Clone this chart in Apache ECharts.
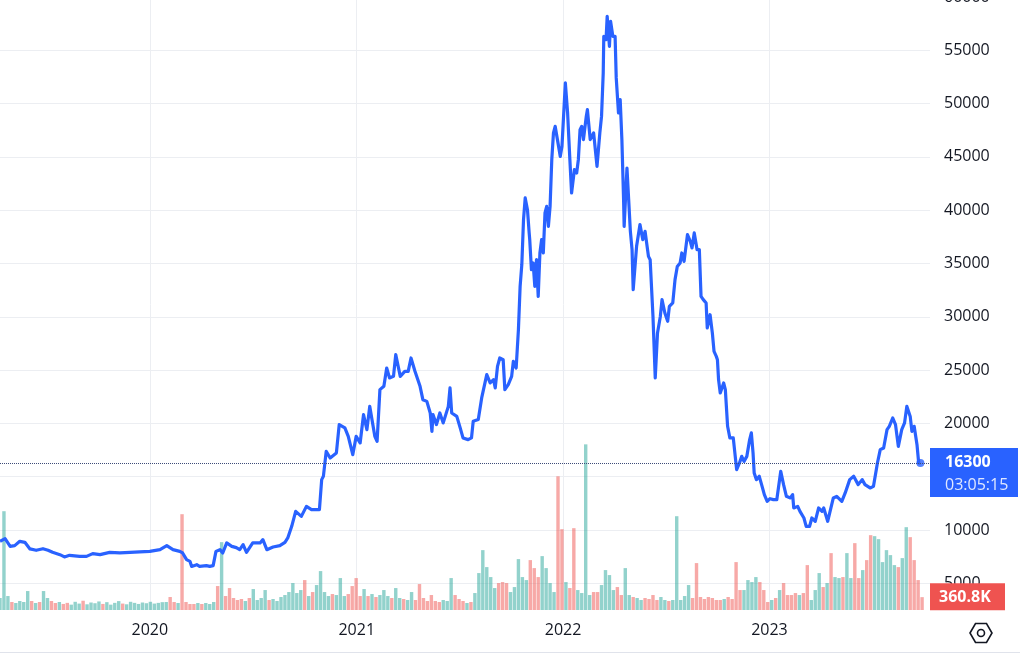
<!DOCTYPE html>
<html><head><meta charset="utf-8">
<script src="https://cdn.jsdelivr.net/npm/echarts@6/dist/echarts.min.js"></script>
<style>html,body{margin:0;padding:0;background:#fff}#c{width:1020px;height:654px}</style>
</head><body><div id="c"></div>
<script>
// ---- data ----
const startDate = '2019-04-11';
const dayCount = 1646;
const yearTicks = ['2020', '2021', '2022', '2023'];
const countdownText = '03:05:15';

const priceDates = [
'2019-04-11','2019-04-20','2019-04-29','2019-05-07','2019-05-16','2019-05-19','2019-05-25','2019-05-28','2019-06-03','2019-06-14',
'2019-06-26','2019-07-05','2019-07-13','2019-07-26','2019-08-03','2019-08-12','2019-08-30','2019-09-11','2019-09-22','2019-10-05',
'2019-10-22','2019-11-09','2019-11-27','2019-12-14','2020-01-01','2020-01-19','2020-01-31','2020-02-11','2020-02-23','2020-02-28',
'2020-03-06','2020-03-12','2020-03-15','2020-03-24','2020-03-29','2020-04-10','2020-04-16','2020-04-22','2020-04-27','2020-05-04',
'2020-05-09','2020-05-16','2020-05-25','2020-06-02','2020-06-08','2020-06-14','2020-06-20','2020-07-01','2020-07-14','2020-07-19',
'2020-07-26','2020-08-06','2020-08-18','2020-08-27','2020-09-01','2020-09-08','2020-09-15','2020-09-25','2020-10-04','2020-10-13',
'2020-10-27','2020-10-31','2020-11-03','2020-11-08','2020-11-15','2020-11-26','2020-12-01','2020-12-11','2020-12-17','2020-12-25',
'2020-12-31','2021-01-07','2021-01-13','2021-01-19','2021-01-24','2021-02-02','2021-02-06','2021-02-11','2021-02-18','2021-02-23',
'2021-02-28','2021-03-07','2021-03-11','2021-03-19','2021-03-27','2021-04-02','2021-04-07','2021-04-14','2021-04-23','2021-04-28',
'2021-05-05','2021-05-11','2021-05-14','2021-05-16','2021-05-22','2021-05-28','2021-06-03','2021-06-12','2021-06-15','2021-06-18',
'2021-06-27','2021-07-03','2021-07-08','2021-07-17','2021-07-23','2021-07-26','2021-08-04','2021-08-10','2021-08-19','2021-08-25',
'2021-08-31','2021-09-03','2021-09-07','2021-09-11','2021-09-17','2021-09-20','2021-09-26','2021-10-02','2021-10-05','2021-10-10',
'2021-10-14','2021-10-17','2021-10-20','2021-10-23','2021-10-26','2021-10-30','2021-11-02','2021-11-03','2021-11-06','2021-11-09',
'2021-11-12','2021-11-15','2021-11-18','2021-11-21','2021-11-24','2021-11-27','2021-11-30','2021-12-03','2021-12-06','2021-12-09',
'2021-12-12','2021-12-15','2021-12-18','2021-12-22','2021-12-27','2021-12-30','2022-01-05','2022-01-09','2022-01-13','2022-01-16',
'2022-01-21','2022-01-25','2022-01-28','2022-01-31','2022-02-03','2022-02-06','2022-02-11','2022-02-13','2022-02-18','2022-02-24',
'2022-03-02','2022-03-07','2022-03-10','2022-03-13','2022-03-14','2022-03-18','2022-03-20','2022-03-24','2022-03-26','2022-03-30',
'2022-04-03','2022-04-05','2022-04-07','2022-04-09','2022-04-12','2022-04-15','2022-04-18','2022-04-19','2022-04-24','2022-04-27',
'2022-04-30','2022-05-03','2022-05-05','2022-05-11','2022-05-17','2022-05-22','2022-05-26','2022-06-01','2022-06-04','2022-06-09',
'2022-06-13','2022-06-17','2022-06-22','2022-06-25','2022-06-30','2022-07-05','2022-07-08','2022-07-14','2022-07-18','2022-07-22',
'2022-07-27','2022-07-30','2022-08-03','2022-08-09','2022-08-14','2022-08-17','2022-08-21','2022-08-26','2022-08-30','2022-09-02',
'2022-09-06','2022-09-11','2022-09-13','2022-09-18','2022-09-22','2022-09-25','2022-09-29','2022-10-01','2022-10-03','2022-10-06',
'2022-10-12','2022-10-15','2022-10-19','2022-10-23','2022-10-29','2022-11-01','2022-11-04','2022-11-09','2022-11-13','2022-11-17',
'2022-11-22','2022-11-27','2022-11-30','2022-12-03','2022-12-05','2022-12-09','2022-12-14','2022-12-19','2022-12-23','2022-12-28',
'2023-01-02','2023-01-08','2023-01-14','2023-01-21','2023-01-26','2023-01-31','2023-02-07','2023-02-11','2023-02-13','2023-02-20',
'2023-02-24','2023-03-03','2023-03-07','2023-03-13','2023-03-17','2023-03-23','2023-03-29','2023-04-04','2023-04-07','2023-04-14',
'2023-04-19','2023-04-24','2023-04-30','2023-05-09','2023-05-15','2023-05-23','2023-05-30','2023-06-07','2023-06-14','2023-06-19',
'2023-06-28','2023-07-04','2023-07-09','2023-07-11','2023-07-16','2023-07-22','2023-07-28','2023-08-01','2023-08-07','2023-08-12',
'2023-08-17','2023-08-23','2023-08-28','2023-09-01','2023-09-07','2023-09-10','2023-09-14','2023-09-19','2023-09-22','2023-09-25'
];
const priceValues = [
8940,9190,8470,8540,8940,9100,8850,9030,8230,8100,
8250,8100,7910,7690,7480,7630,7530,7530,7790,7690,
7910,7850,7910,7950,8000,8160,8540,8160,8000,7850,
7220,7060,6590,6750,6590,6660,6590,6660,8000,8160,
7850,8790,8470,8350,8160,8630,7910,8790,8790,9100,
8160,8410,8540,8850,9260,10350,11750,11280,12220,11910,
11910,14730,15040,17380,16760,17230,19890,19580,18790,17070,
18790,18170,20820,19420,21600,18790,18320,23170,23480,25200,
24270,24420,26450,24420,24890,24890,26140,24890,23480,22230,
22070,20980,19260,20820,19890,20980,20050,21600,23330,20980,
20660,19580,18640,18480,18640,20200,20360,22390,24580,23800,
24110,23330,25350,26140,25980,23170,23640,24420,25820,25200,
28800,32860,34890,39110,41150,40050,37870,37240,34420,35050,
32860,35360,31920,35990,37240,35990,39740,40360,38490,40360,
44740,47250,47870,46620,45050,45990,51940,49120,44740,41620,
43800,43490,44740,47560,47870,46620,48800,49430,46620,47250,
44110,47250,48800,52880,56310,56000,58180,55370,57720,56310,
56310,52410,52250,49120,50370,46620,40990,38490,43960,40990,
38020,36300,32550,36610,38650,37240,38020,35670,35360,30040,
24270,28490,30040,31610,30360,29580,30980,31300,33490,34730,
35050,35990,35200,37710,37080,36460,37870,36300,36300,31920,
31610,31300,28960,30200,28490,26760,26290,25980,24110,22860,
23800,23170,19730,18640,18640,18480,15660,16290,16910,16440,
16910,18480,19110,17230,15360,14730,15040,14100,13320,12690,
12940,12850,12850,15510,14260,13160,13010,13320,12070,12220,
11750,11130,10350,10350,11130,10820,12070,11750,12070,10820,
11910,13010,13160,12690,13480,14730,15040,14260,14730,14260,
13950,14100,15660,16290,17540,17700,19420,19730,20510,19890,
17850,19420,20050,21600,20660,19260,19730,18010,16290,16300
];

// weekly volume (thousands), first bar on startDate, one bar every 7 days
const volumeValues = [
336,2772,392,224,196,252,224,532,252,196,
224,532,336,252,196,224,170,200,150,230,
180,260,160,210,190,240,170,220,150,200,
250,180,160,230,200,170,210,190,230,180,
200,220,224,364,224,196,2688,224,168,168,
196,168,196,168,224,672,1904,392,616,336,
280,308,252,336,588,280,336,560,280,308,
252,364,420,504,756,476,560,840,392,504,
700,1092,504,392,448,420,896,392,448,672,
896,392,588,392,448,364,420,560,392,336,
616,336,308,280,504,280,728,336,252,420,
252,224,280,252,896,420,308,252,196,224,
476,1036,1680,1204,924,616,756,784,756,504,
644,1428,924,840,1400,1176,924,1512,1176,756,
504,3752,2268,784,616,2296,560,476,4648,420,
504,504,700,1120,980,560,644,420,1176,420,
364,336,280,336,308,420,280,364,280,252,
280,2632,280,392,700,336,1316,364,308,364,
336,280,280,308,364,308,1344,560,560,840,
784,924,784,560,224,280,336,560,756,420,
420,476,420,476,1260,280,560,1036,644,756,
1596,924,896,924,1596,896,1876,896,1120,1400,
2100,2072,1988,1344,1680,1540,1260,1204,1456,2324,
2044,1400,840,360.8
];
const volumeUpWeeks = [1,7,11,56,81,86,97,100,114,121,122,123,124,130,131,132,133,137,138,148,153,154,158,171,189,191,207,214,221,222,225,229];
const volumeDownWeeks = [43,46,55,58,89,90,106,109,126,127,128,134,135,136,141,142,145,176,186,198,204,210,216,219,220,227,230,231,233];

// ---- build ----
function addDays(s, n) {
  const d = new Date(s + 'T00:00:00Z');
  d.setUTCDate(d.getUTCDate() + n);
  return d.toISOString().slice(0, 10);
}
const days = [];
for (let i = 0; i < dayCount; i++) days.push(addDays(startDate, i));
const dayIndex = {};
days.forEach((d, i) => { dayIndex[d] = i; });

const priceData = new Array(dayCount).fill(null);
priceDates.forEach((d, j) => { priceData[dayIndex[d]] = priceValues[j]; });
const lastIdx = dayIndex[priceDates[priceDates.length - 1]];
const lastPrice = priceValues[priceValues.length - 1];

// step price lookup (for default bar colour only)
const stepPrice = new Array(dayCount).fill(null);
let cur = priceValues[0];
for (let i = 0; i < dayCount; i++) { if (priceData[i] != null) cur = priceData[i]; stepPrice[i] = cur; }

const UP = 'rgba(38,166,154,0.5)', DOWN = 'rgba(239,83,80,0.5)';
const volData = new Array(dayCount).fill(null);
volumeValues.forEach((v, k) => {
  const i = k * 7;
  let up = k === 0 ? true : stepPrice[i] >= stepPrice[i - 7];
  if (volumeUpWeeks.includes(k)) up = true;
  if (volumeDownWeeks.includes(k)) up = false;
  volData[i] = { value: v, itemStyle: { color: up ? UP : DOWN } };
});
const lastVolume = volumeValues[volumeValues.length - 1];

const isYearStart = (i, v) => v.slice(5) === '01-01' && yearTicks.includes(v.slice(0, 4));
const FONT = 'Open Sans';
const TXT = '#131722';

const chart = echarts.init(document.getElementById('c'), null, { renderer: 'canvas' });
chart.setOption({
  animation: false,
  backgroundColor: '#ffffff',
  grid: { left: 0, right: 90, top: -3, bottom: 44, containLabel: false, outerBoundsMode: 'none' },
  xAxis: {
    type: 'category', data: days, boundaryGap: false,
    axisLine: { show: false }, axisTick: { show: false },
    axisLabel: { interval: isYearStart, formatter: v => v.slice(0, 4), margin: 12,
      color: TXT, fontSize: 16, fontFamily: FONT },
    splitLine: { show: true, interval: isYearStart, lineStyle: { color: '#eceef2', width: 1 } }
  },
  yAxis: [{
    type: 'value', position: 'right', min: 2500, max: 60000, interval: 2500,
    axisLine: { show: false }, axisTick: { show: false },
    axisLabel: { margin: 14, color: TXT, fontSize: 16, fontFamily: FONT,
      formatter: v => (v % 5000 === 0 ? String(v) : '') },
    splitLine: { show: true, lineStyle: { color: ['rgba(0,0,0,0)', '#eceef2'], width: 1 } }
  }, {
    type: 'value', min: 0, max: 17200, show: false, splitLine: { show: false }
  }],
  series: [{
    type: 'bar', xAxisIndex: 0, yAxisIndex: 1, data: volData, barWidth: 3.4, z: 1
  }, {
    type: 'line', data: priceData, connectNulls: true, showSymbol: false, symbol: 'none',
    lineStyle: { color: '#2962ff', width: 3.2, join: 'round' }, z: 3,
    markLine: {
      silent: true, symbol: 'none', animation: false,
      label: { show: false },
      lineStyle: { type: 'dotted', color: '#3d4b78', width: 1 },
      data: [{ yAxis: lastPrice }]
    }
  }, {
    type: 'scatter', data: [[lastIdx, lastPrice]], symbolSize: 8,
    itemStyle: { color: '#2962ff' }, z: 4
  }]
});

const yP = chart.convertToPixel({ yAxisIndex: 0 }, lastPrice);
const yV = chart.convertToPixel({ yAxisIndex: 1 }, lastVolume);
const fmtVol = v => (v >= 1000 ? (v / 1000).toFixed(1) + 'M' : v.toFixed(1) + 'K');
chart.setOption({
  graphic: [
    { type: 'rect', z: 100, shape: { x: 930, y: yP - 15, width: 88, height: 49 }, style: { fill: '#2962ff' } },
    { type: 'text', z: 101, style: { x: 945, y: yP, text: String(lastPrice), fill: '#ffffff',
      fontSize: 16, fontWeight: 'bold', fontFamily: FONT, verticalAlign: 'middle', align: 'left' } },
    { type: 'text', z: 101, style: { x: 945, y: yP + 23, text: countdownText, fill: 'rgba(255,255,255,0.85)',
      fontSize: 16, fontFamily: FONT, verticalAlign: 'middle', align: 'left' } },
    { type: 'rect', z: 100, shape: { x: 930, y: yV - 14, width: 75, height: 27 }, style: { fill: '#ef5350' } },
    { type: 'text', z: 101, style: { x: 939, y: yV, text: fmtVol(lastVolume), fill: '#ffffff',
      fontSize: 16, fontWeight: 'bold', fontFamily: FONT, verticalAlign: 'middle', align: 'left' } },
    { type: 'polygon', z: 100, shape: { points: [[970, 633], [975.5, 623.5], [986.5, 623.5], [992, 633], [986.5, 642.5], [975.5, 642.5]] },
      style: { fill: 'none', stroke: TXT, lineWidth: 1.6 } },
    { type: 'circle', z: 100, shape: { cx: 981, cy: 633, r: 3.5 }, style: { fill: 'none', stroke: TXT, lineWidth: 1.6 } },
    { type: 'line', z: 100, shape: { x1: 0, y1: 652.5, x2: 1020, y2: 652.5 }, style: { stroke: '#e0e3eb', lineWidth: 1 } }
  ]
});
</script>
</body></html>
